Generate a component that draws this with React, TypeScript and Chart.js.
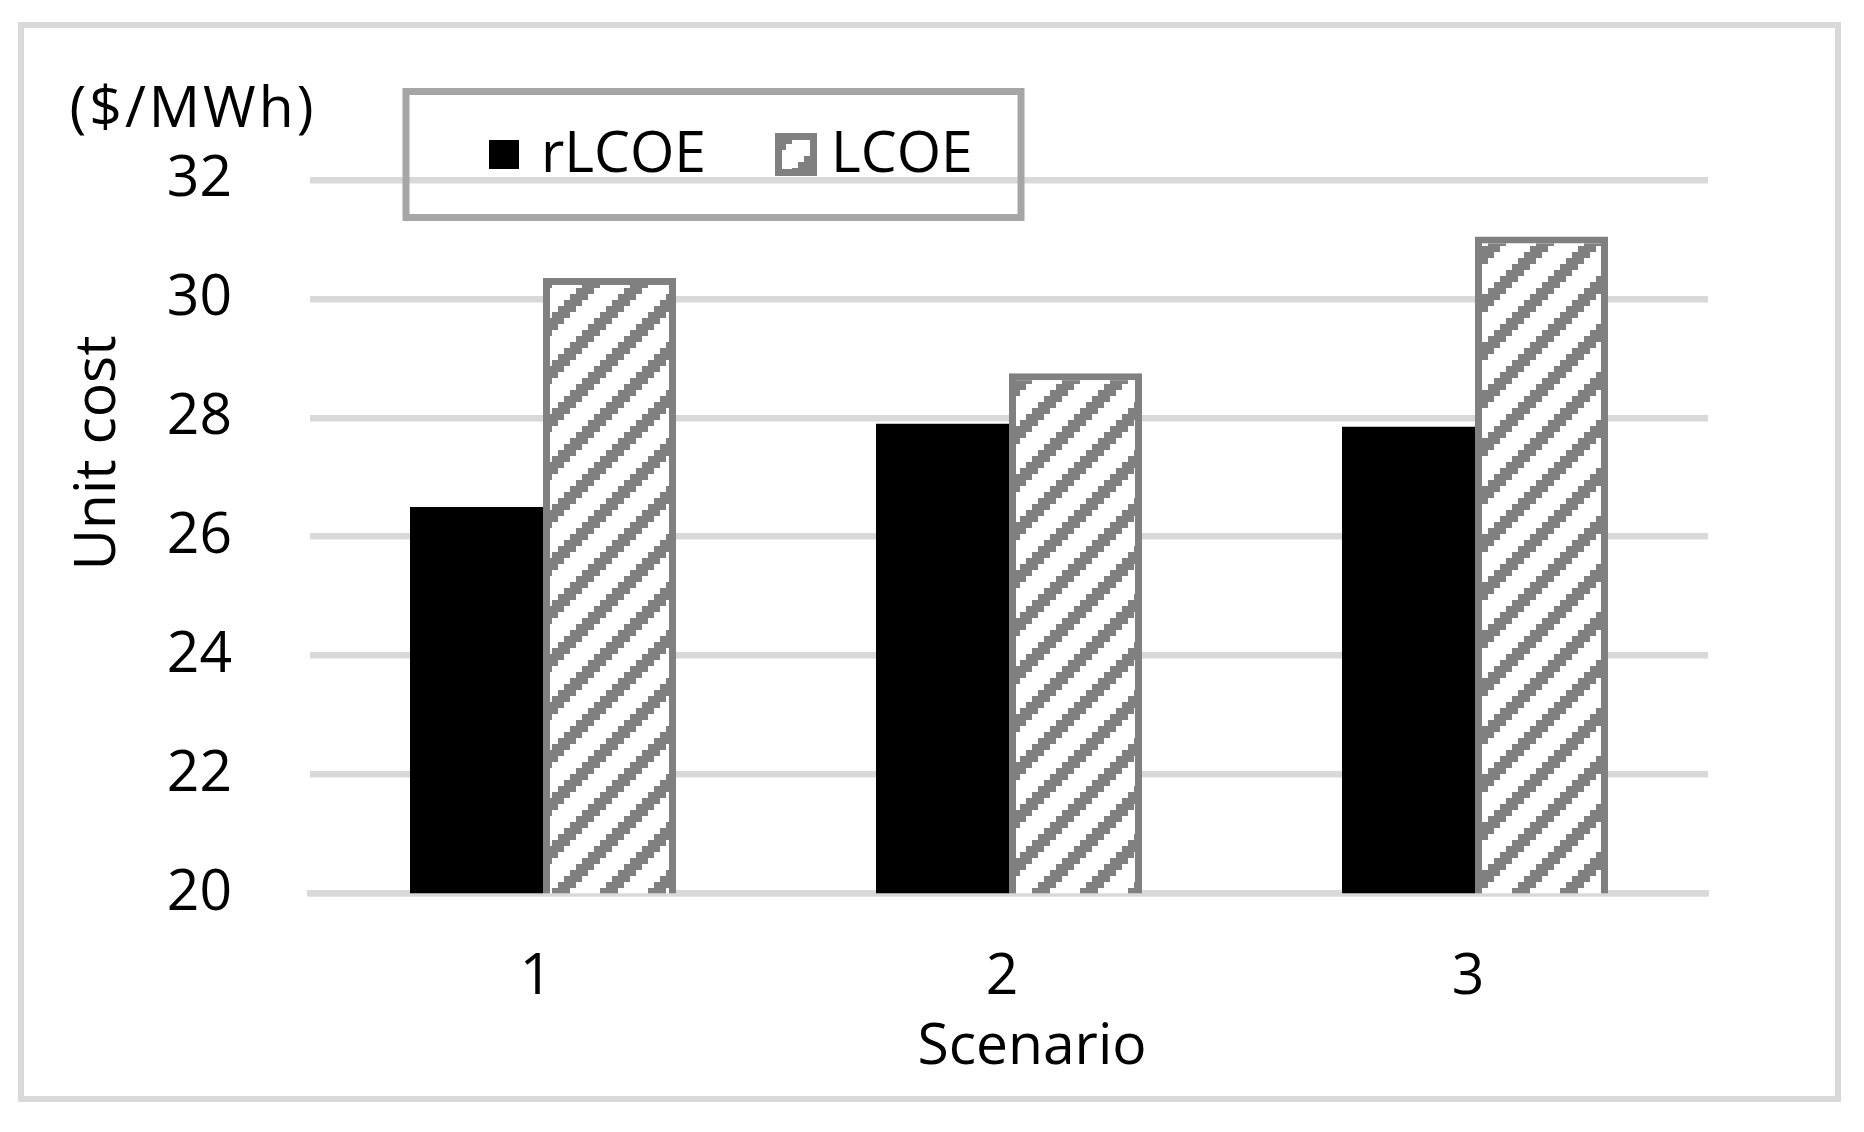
import React, { useEffect, useRef } from "react";
import { Chart, registerables } from "chart.js";

Chart.register(...registerables);

// ---- data ----
const categories = ["1", "2", "3"];
const seriesNames = ["rLCOE", "LCOE"];
const rLCOEValues = [26.5, 27.9, 27.85];
const LCOEValues = [30.35, 28.75, 31.05];
const yMin = 20;
const yMax = 32;
const yStep = 2;
const xTitle = "Scenario";
const yTitle = "Unit cost";
const unitLabel = "($/MWh)";

const FONT = '"Open Sans", "Noto Sans", sans-serif';
const FS = 57;
const GRID = "#d9d9d9";
const HATCH = "#808080";

function makeHatch(): CanvasPattern | string {
  const c = document.createElement("canvas");
  const px = 6;
  const n = 8;
  c.width = px * n;
  c.height = px * n;
  const g = c.getContext("2d");
  if (!g) return HATCH;
  g.fillStyle = "#ffffff";
  g.fillRect(0, 0, c.width, c.height);
  g.fillStyle = HATCH;
  for (let i = 0; i < n; i++) {
    for (let j = 0; j < n; j++) {
      if ((i + j) % n < 3) g.fillRect(i * px, j * px, px, px);
    }
  }
  return g.createPattern(c, "repeat") || HATCH;
}

export default function App() {
  const ref = useRef<HTMLCanvasElement | null>(null);

  useEffect(() => {
    if (!ref.current) return;
    const hatch = makeHatch();

    const decor = {
      id: "decor",
      beforeDraw(chart: any) {
        const ctx = chart.ctx;
        ctx.save();
        ctx.fillStyle = "#ffffff";
        ctx.fillRect(0, 0, chart.width, chart.height);
        ctx.strokeStyle = GRID;
        ctx.lineWidth = 6;
        ctx.strokeRect(21, 25, 1817, 1074);
        ctx.restore();
      },
      afterDraw(chart: any) {
        const ctx = chart.ctx;
        ctx.save();
        ctx.fillStyle = "#000000";
        ctx.font = `${FS}px ${FONT}`;
        ctx.textBaseline = "alphabetic";
        // unit label
        ctx.textAlign = "center";
        try {
          (ctx as any).letterSpacing = "3px";
        } catch (e) {}
        ctx.fillText(unitLabel, 193, 127);
        try {
          (ctx as any).letterSpacing = "0px";
        } catch (e) {}
        // x title
        ctx.fillText(xTitle, 1032, 1064);
        // y title rotated
        ctx.save();
        ctx.translate(115, 453);
        ctx.rotate(-Math.PI / 2);
        ctx.textAlign = "center";
        ctx.fillText(yTitle, 0, 0);
        ctx.restore();
        // legend box
        ctx.strokeStyle = "#a6a6a6";
        ctx.lineWidth = 7;
        ctx.strokeRect(406, 91.5, 615, 126);
        // rLCOE marker
        ctx.fillStyle = "#000000";
        ctx.fillRect(489, 140, 30, 29);
        // LCOE marker
        ctx.fillStyle = hatch as any;
        ctx.fillRect(778.5, 136.5, 35, 36);
        ctx.strokeStyle = HATCH;
        ctx.lineWidth = 7;
        ctx.strokeRect(778.5, 136.5, 35, 36);
        ctx.fillStyle = "#000000";
        ctx.textAlign = "left";
        ctx.fillText(seriesNames[0], 541, 172);
        ctx.fillText(seriesNames[1], 831, 172);
        ctx.restore();
      },
    };

    const chart = new Chart(ref.current, {
      type: "bar",
      data: {
        labels: categories,
        datasets: [
          {
            label: seriesNames[0],
            data: rLCOEValues,
            backgroundColor: "#000000",
            borderWidth: 0,
            categoryPercentage: 0.5708,
            barPercentage: 1,
          },
          {
            label: seriesNames[1],
            data: LCOEValues,
            backgroundColor: hatch as any,
            borderColor: HATCH,
            borderWidth: 7,
            categoryPercentage: 0.5708,
            barPercentage: 1,
          },
        ],
      },
      options: {
        responsive: false,
        animation: false,
        devicePixelRatio: 1,
        layout: { padding: { left: 0, right: 156, top: 180, bottom: 0 } },
        plugins: {
          legend: { display: false },
          tooltip: { enabled: false },
        },
        scales: {
          x: {
            type: "category",
            offset: true,
            z: 1,
            grid: { display: false, drawTicks: false },
            border: { display: true, color: GRID, width: 6.5 },
            ticks: {
              color: "#000000",
              font: { family: FONT, size: FS },
              padding: 50,
              labelOffset: -7,
              maxRotation: 0,
            },
            afterFit: (s: any) => {
              s.height = 1132 - 893.3;
            },
          },
          y: {
            min: yMin,
            max: yMax,
            ticks: {
              stepSize: yStep,
              color: "#000000",
              font: { family: FONT, size: FS },
              padding: 78,
            },
            grid: { color: GRID, lineWidth: 6.5, drawTicks: false },
            border: { display: false },
            afterFit: (s: any) => {
              s.width = 310;
            },
          },
        },
      },
      plugins: [decor],
    });

    return () => chart.destroy();
  }, []);

  return (
    <div
      style={{
        position: "absolute",
        left: 0,
        top: 0,
        width: 1864,
        height: 1132,
        background: "#ffffff",
      }}
    >
      <canvas ref={ref} width={1864} height={1132} style={{ width: 1864, height: 1132, display: "block" }} />
    </div>
  );
}
